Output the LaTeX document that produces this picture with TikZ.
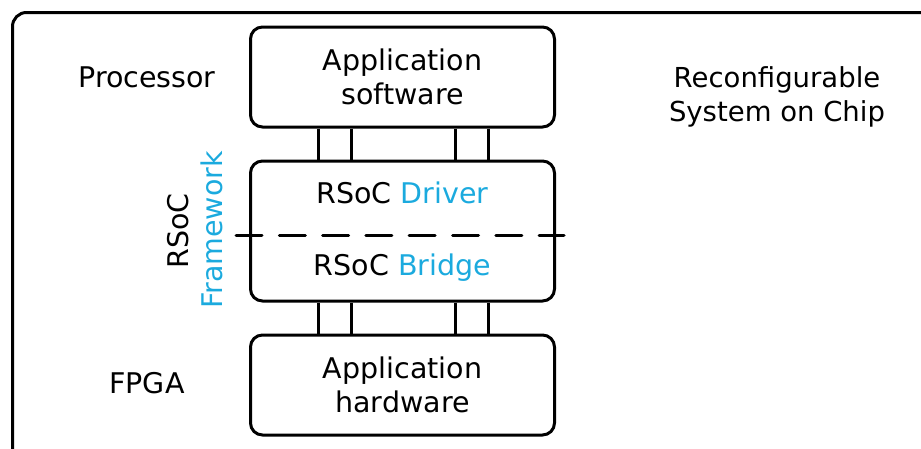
\documentclass[tikz,border=0pt]{standalone}
\usepackage{fontspec}
\setmainfont{DejaVu Sans}
\usepackage{xcolor}
\usepackage{tikz}
\definecolor{rsocblue}{RGB}{27,170,222}

\begin{document}
\begin{tikzpicture}[x=1pt,y=-1pt,
  line width=3pt,
  font=\fontsize{28.5}{34}\selectfont,
  blk/.style={draw,rounded corners=12pt,minimum width=304pt,align=center,inner sep=0pt},
  cut/.style={line cap=round,dash pattern=on 26pt off 17.3pt},
]
\useasboundingbox (0,0) rectangle (921,448);
\clip (0,0) rectangle (921,448);
% outer frame, runs off the page on the right and bottom
\draw[rounded corners=14pt] (12.5,12.5) rectangle (950,480);

\node[blk,minimum height=100pt] (sw) at (402.5,77) {Application\\software};
\node[blk,minimum height=140pt] (fw) at (402.5,231) {};
\node[blk,minimum height=100pt] (hw) at (402.5,385) {Application\\hardware};

\node (drv) at (402.5,193) {RSoC \textcolor{rsocblue}{Driver}};
\node (brg) at (402.5,268) {RSoC \textcolor{rsocblue}{Bridge}};
\coordinate (cutl) at (236,235);
\coordinate (cutr) at (564,235);
\draw[cut] (cutl) -- (cutr);

% links between the layers
\foreach \x in {318,351,455,488}{
  \draw (\x,0 |- sw.south) -- (\x,0 |- fw.north);
  \draw (\x,0 |- fw.south) -- (\x,0 |- hw.north);
}

\node (proc) at (147,77) {Processor};
\node (fpga) at (147,383) {FPGA};
\node[rotate=90] (rsoc) at (178,231) {RSoC};
\node[rotate=90,text=rsocblue] (frm) at (212,230) {Framework};
\node[align=center,font=\fontsize{27.5}{34}\selectfont] (chip) at (777,97) {Reconfigurable\\System on Chip};
\end{tikzpicture}
\end{document}
